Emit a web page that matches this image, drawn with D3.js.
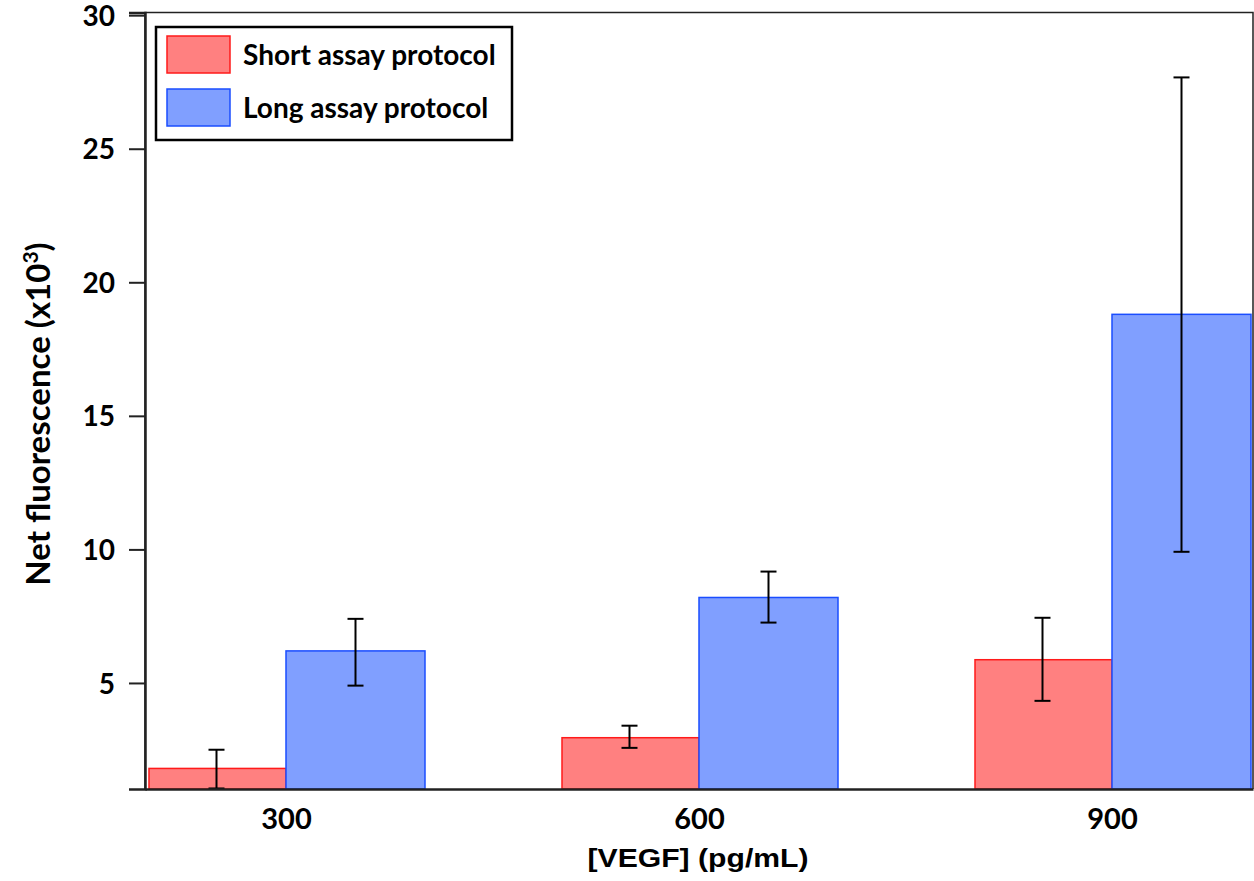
<!DOCTYPE html>
<html>
<head>
<meta charset="utf-8">
<script src="https://cdnjs.cloudflare.com/ajax/libs/d3/7.8.5/d3.min.js"></script>
<style>
  body { margin: 0; background: #fff; }
  text { font-family: Lato, "Open Sans", sans-serif; font-weight: bold; fill: #000; }
</style>
</head>
<body>
<svg></svg>
<script>
var width = 1254,
	height = 881;

var concentrations = ["300", "600", "900"];
var seriesNames = ["Short assay protocol", "Long assay protocol"];
var shortMean = [1.8, 2.95, 5.87];
var shortLow = [1.05, 2.57, 4.33];
var shortHigh = [2.5, 3.4, 7.44];
var longMean = [6.2, 8.2, 18.8];
var longLow = [4.9, 7.26, 9.91];
var longHigh = [7.4, 9.17, 27.67];
var yTicks = [5, 10, 15, 20, 25, 30];

var fills = ["#ff8080", "#809fff"];
var strokes = ["#ff1a1a", "#1a4dff"];

var plotL = 145, plotR = 1253, plotT = 12.5, plotB = 789;

var svg = d3.select("svg")
	.attr("width", width)
	.attr("height", height);

var x = d3.scalePoint()
	.domain(concentrations)
	.range([plotL, plotR])
	.padding(0.3414);

var barW = 139;

var y = d3.scaleLinear()
	.domain([1.03, 30.1])
	.range([plotB, plotT]);

// bars + error bars
var groups = [
	{mean: shortMean, low: shortLow, high: shortHigh, off: -1},
	{mean: longMean, low: longLow, high: longHigh, off: 0}
];

groups.forEach(function(g, s) {
	var rows = concentrations.map(function(c, i) {
		return {c: c, v: g.mean[i], lo: g.low[i], hi: g.high[i]};
	});
	svg.append("g").selectAll("rect")
		.data(rows)
		.enter()
		.append("rect")
		.attr("x", function(d) { return x(d.c) + g.off * barW + (s == 0 ? 2 : 0); })
		.attr("y", function(d) { return y(d.v); })
		.attr("width", barW - (s == 0 ? 2 : 0))
		.attr("height", function(d) { return plotB - y(d.v); })
		.attr("fill", fills[s])
		.attr("stroke", strokes[s])
		.attr("stroke-width", 1.5);

	var eb = svg.append("g")
		.attr("stroke", "#000")
		.attr("stroke-width", 2)
		.selectAll("g")
		.data(rows)
		.enter()
		.append("g")
		.attr("transform", function(d) {
			return "translate(" + (x(d.c) + g.off * barW + barW / 2) + ",0)";
		});
	eb.append("line")
		.attr("y1", function(d) { return y(d.lo); })
		.attr("y2", function(d) { return y(d.hi); });
	eb.append("line")
		.attr("x1", -8).attr("x2", 8)
		.attr("y1", function(d) { return y(d.hi); })
		.attr("y2", function(d) { return y(d.hi); });
	eb.append("line")
		.attr("x1", -8).attr("x2", 8)
		.attr("y1", function(d) { return y(d.lo); })
		.attr("y2", function(d) { return y(d.lo); });
});

// frame
svg.append("path")
	.attr("d", "M" + plotL + "," + plotB + "V" + plotT + "H" + plotR + "V" + plotB)
	.attr("fill", "none")
	.attr("stroke", "#222")
	.attr("stroke-width", 1.5);

// axes
var yAxis = svg.append("g")
	.attr("transform", "translate(" + plotL + ",0)")
	.call(d3.axisLeft(y).tickValues(yTicks).tickSize(16).tickPadding(14));
yAxis.select(".domain").attr("stroke", "#222").attr("stroke-width", 2.5);
yAxis.selectAll(".tick line").attr("stroke", "#222").attr("stroke-width", 2);
yAxis.selectAll("text").style("font-size", "28px").attr("dy", "0.36em");

var xAxis = svg.append("g")
	.attr("transform", "translate(0," + plotB + ")")
	.call(d3.axisBottom(x).tickSize(0).tickPadding(19));
xAxis.select(".domain").attr("stroke", "#222").attr("stroke-width", 2.5);
xAxis.selectAll("text").style("font-size", "29px");

// axis titles
svg.append("text")
	.attr("transform", "translate(698,867) scale(1.16,1)")
	.attr("text-anchor", "middle")
	.style("font-family", "'Liberation Sans', Arial, sans-serif")
	.style("font-size", "26px")
	.text("[VEGF] (pg/mL)");

var yt = svg.append("text")
	.attr("transform", "translate(50,414) rotate(-90)")
	.attr("text-anchor", "middle")
	.style("font-size", "33px");
yt.append("tspan").text("Net fluorescence (x10");
yt.append("tspan").attr("dy", -12).style("font-size", "21px").text("3");
yt.append("tspan").attr("dy", 12).text(")");

// legend
var lg = svg.append("g");
lg.append("rect")
	.attr("x", 156).attr("y", 27)
	.attr("width", 356).attr("height", 113)
	.attr("fill", "#fff")
	.attr("stroke", "#000")
	.attr("stroke-width", 2.5);
var items = lg.selectAll(".item")
	.data(seriesNames)
	.enter()
	.append("g")
	.attr("transform", function(d, i) { return "translate(0," + (i * 53) + ")"; });
items.append("rect")
	.attr("x", 167).attr("y", 36)
	.attr("width", 63).attr("height", 37)
	.attr("fill", function(d, i) { return fills[i]; })
	.attr("stroke", function(d, i) { return strokes[i]; })
	.attr("stroke-width", 1.5);
items.append("text")
	.attr("x", 243).attr("y", 65)
	.style("font-size", "28px")
	.text(function(d) { return d; });
</script>
</body>
</html>
